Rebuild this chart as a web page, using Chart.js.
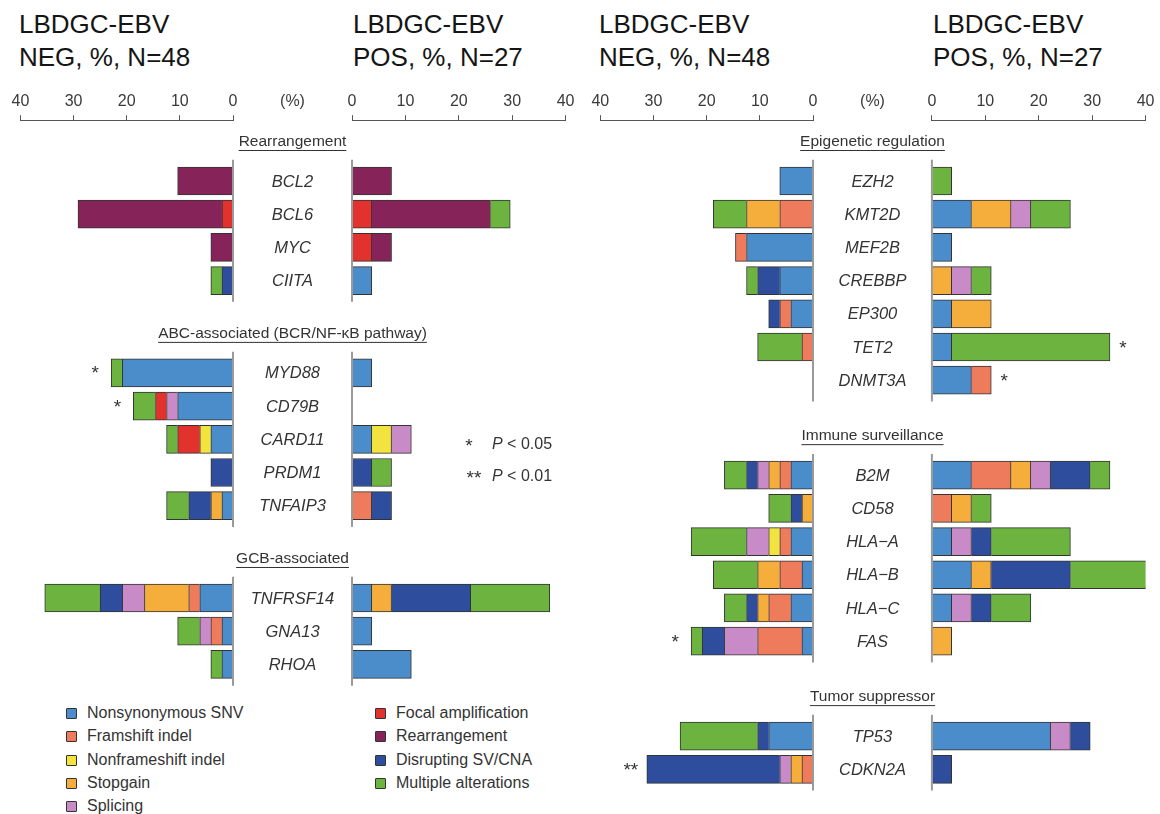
<!DOCTYPE html>
<html><head><meta charset="utf-8"><title>LBDGC-EBV</title>
<script src="https://cdn.jsdelivr.net/npm/chart.js@4.4.1/dist/chart.umd.min.js"></script>
<style>
html,body{margin:0;padding:0;background:#fff;}
body{width:1160px;height:814px;position:relative;overflow:hidden;font-family:"Liberation Sans",Arial,Helvetica,sans-serif;color:#222;}
.panel{position:absolute;top:0;height:814px;}
.title{position:absolute;top:8px;font-size:26px;line-height:33px;color:#151515;white-space:nowrap;}
.leg{position:absolute;font-size:16px;line-height:20px;height:20px;color:#333;white-space:nowrap;}
.leg i{display:block;width:9px;height:9px;border:1px solid #333;border-radius:1px;position:absolute;left:0;top:5px;}
.leg span{position:absolute;left:21px;top:0;}
</style></head><body>
<div class="title" style="left:19px">LBDGC-EBV<br>NEG, %, N=48</div>
<div class="title" style="left:353px">LBDGC-EBV<br>POS, %, N=27</div>
<div class="title" style="left:599px">LBDGC-EBV<br>NEG, %, N=48</div>
<div class="title" style="left:933px">LBDGC-EBV<br>POS, %, N=27</div>
<div id="legend"></div>
<script>
// ---------------- DATA ----------------
const categories = ['Nonsynonymous SNV','Framshift indel','Nonframeshift indel','Stopgain','Splicing',
  'Focal amplification','Rearrangement','Disrupting SV/CNA','Multiple alterations'];
const categoryColors = ['#4b8dca','#ee7c5c','#f2e33f','#f5ad3b','#c98bc8','#e2322e','#86245a','#2e4e9d','#6db33f'];
const nNeg = 48, nPos = 27;
const axisTicks = [0, 10, 20, 30, 40];

// left half
const leftGroups = ['Rearrangement', 'ABC-associated (BCR/NF-\u03BAB pathway)', 'GCB-associated'];
const leftGroupSizes = [4, 5, 3];
const leftGenes = ['BCL2','BCL6','MYC','CIITA','MYD88','CD79B','CARD11','PRDM1','TNFAIP3','TNFRSF14','GNA13','RHOA'];
// patient counts, one row per category (same order as categories)
const leftNegCounts = [
  [0,0,0,0,10,5,2,0,1,3,1,1],   // Nonsynonymous SNV
  [0,0,0,0,0,0,0,0,0,1,1,0],    // Framshift indel
  [0,0,0,0,0,0,1,0,0,0,0,0],    // Nonframeshift indel
  [0,0,0,0,0,0,0,0,1,4,0,0],    // Stopgain
  [0,0,0,0,0,1,0,0,0,2,1,0],    // Splicing
  [0,1,0,0,0,1,2,0,0,0,0,0],    // Focal amplification
  [5,13,2,0,0,0,0,0,0,0,0,0],   // Rearrangement
  [0,0,0,1,0,0,0,2,2,2,0,0],    // Disrupting SV/CNA
  [0,0,0,1,1,2,1,0,2,5,2,1]     // Multiple alterations
];
const leftPosCounts = [
  [0,0,0,1,1,0,1,0,0,1,1,3],
  [0,0,0,0,0,0,0,0,1,0,0,0],
  [0,0,0,0,0,0,1,0,0,0,0,0],
  [0,0,0,0,0,0,0,0,0,1,0,0],
  [0,0,0,0,0,0,1,0,0,0,0,0],
  [0,1,1,0,0,0,0,0,0,0,0,0],
  [2,6,1,0,0,0,0,0,0,0,0,0],
  [0,0,0,0,0,0,0,1,1,4,0,0],
  [0,1,0,0,0,0,0,1,0,4,0,0]
];
const leftNegStars = ['','','','','*','*','','','','','',''];
const leftPosStars = ['','','','','','','','','','','',''];

// right half
const rightGroups = ['Epigenetic regulation', 'Immune surveillance', 'Tumor suppressor'];
const rightGroupSizes = [7, 6, 2];
const rightGenes = ['EZH2','KMT2D','MEF2B','CREBBP','EP300','TET2','DNMT3A',
  'B2M','CD58','HLA\u2212A','HLA\u2212B','HLA\u2212C','FAS','TP53','CDKN2A'];
const rightNegCounts = [
  [3,0,6,3,2,0,0, 2,0,2,1,2,1, 4,0],
  [0,3,1,0,1,1,0, 1,0,1,2,2,4, 0,1],
  [0,0,0,0,0,0,0, 0,0,1,0,0,0, 0,0],
  [0,3,0,0,0,0,0, 1,1,0,2,1,0, 0,1],
  [0,0,0,0,0,0,0, 1,0,2,0,0,3, 0,1],
  [0,0,0,0,0,0,0, 0,0,0,0,0,0, 0,0],
  [0,0,0,0,0,0,0, 0,0,0,0,0,0, 0,0],
  [0,0,0,2,1,0,0, 1,1,0,0,1,2, 1,12],
  [0,3,0,1,0,4,0, 2,2,5,4,2,1, 7,0]
];
const rightPosCounts = [
  [0,2,1,0,1,1,2, 2,0,1,2,1,0, 6,0],
  [0,0,0,0,0,0,1, 2,1,0,0,0,0, 0,0],
  [0,0,0,0,0,0,0, 0,0,0,0,0,0, 0,0],
  [0,2,0,1,2,0,0, 1,1,0,1,0,1, 0,0],
  [0,1,0,1,0,0,0, 1,0,1,0,1,0, 1,0],
  [0,0,0,0,0,0,0, 0,0,0,0,0,0, 0,0],
  [0,0,0,0,0,0,0, 0,0,0,0,0,0, 0,0],
  [0,0,0,0,0,0,0, 2,0,1,4,1,0, 1,1],
  [1,2,0,1,0,8,0, 1,1,4,4,2,0, 0,0]
];
const rightNegStars = ['','','','','','','', '','','','','','*', '','**'];
const rightPosStars = ['','','','','','*','*', '','','','','','', '',''];

// ---------------- LAYOUT ----------------
const FONT = '"Liberation Sans", Arial, Helvetica, sans-serif';
const PITCH = 33.2, ROW0 = 181, AREA_BOTTOM = 800;
const HEADER_OFFSET = -1.22, LINE_EXT = 0.64, STAR_DROP = 6.5;

function rowPositions(sizes, gap) {
  const out = []; let k = 0;
  sizes.forEach((s, g) => { for (let i = 0; i < s; i++) { out.push(k + g * gap); k++; } });
  return out;
}
function groupSpans(sizes, pos) {
  const spans = []; let k = 0;
  sizes.forEach(s => { spans.push({first: pos[k], last: pos[k + s - 1]}); k += s; });
  return spans;
}

const overlay = {
  id: 'overlay',
  afterLayout(chart) {
    // rows are laid out with a fixed pixel pitch from the final chart area
    const ys = chart.scales.y;
    ys.min = -(ROW0 - ys.top) / PITCH;
    ys.max = ys.min + (ys.bottom - ys.top) / PITCH;
    ys.configure();
  },
  afterDatasetsDraw(chart, args, o) {
    const ctx = chart.ctx, xs = chart.scales.x, ys = chart.scales.y;
    ctx.save();
    // zero lines per group
    const x0 = xs.getPixelForValue(0);
    ctx.strokeStyle = '#9a9a9a'; ctx.lineWidth = 2;
    o.spans.forEach(sp => {
      ctx.beginPath();
      ctx.moveTo(x0, ys.getPixelForValue(sp.first - LINE_EXT));
      ctx.lineTo(x0, ys.getPixelForValue(sp.last + LINE_EXT));
      ctx.stroke();
    });
    // significance stars
    ctx.fillStyle = '#333'; ctx.font = '19px ' + FONT;
    ctx.textAlign = 'center'; ctx.textBaseline = 'alphabetic';
    o.stars.forEach((s, gi) => {
      if (!s) return;
      const total = o.totals[gi];
      const px = xs.getPixelForValue(total) + (o.side === 'neg' ? -16 : 13);
      ctx.fillText(s, px, ys.getPixelForValue(o.pos[gi]) + STAR_DROP);
    });
    // gene labels & headers between panels
    if (o.labelX !== undefined) {
      const lx = o.labelX;
      ctx.fillStyle = '#333'; ctx.textAlign = 'center'; ctx.textBaseline = 'middle';
      ctx.font = 'italic 16.5px ' + FONT;
      o.genes.forEach((g, gi) => ctx.fillText(g, lx, ys.getPixelForValue(o.pos[gi]) + 1));
      ctx.font = '15.5px ' + FONT;
      o.headers.forEach((h, hi) => {
        const y = ys.getPixelForValue(o.spans[hi].first + HEADER_OFFSET) + 1.5;
        ctx.fillText(h, lx, y);
        const w = ctx.measureText(h).width;
        ctx.fillRect(lx - w / 2, y + 8, w, 1);
      });
      ctx.font = '16px ' + FONT;
      ctx.fillStyle = '#3a3a3a';
      ctx.fillText('(%)', lx, xs.bottom - 5 - 4 - 9.6);
      // significance key
      if (o.key) {
        ctx.fillStyle = '#333';
        o.key.forEach(k => {
          const kx = k.x - o.boxLeft;
          ctx.font = '19px ' + FONT; ctx.textAlign = 'center'; ctx.textBaseline = 'alphabetic';
          ctx.fillText(k.star, kx, k.y + STAR_DROP);
          ctx.textAlign = 'left'; ctx.textBaseline = 'middle';
          ctx.font = 'italic 16px ' + FONT;
          ctx.fillText('P', k.tx - o.boxLeft, k.y);
          const pw = ctx.measureText('P').width;
          ctx.font = '16px ' + FONT;
          ctx.fillText(' < ' + k.p, k.tx - o.boxLeft + pw, k.y);
        });
      }
    }
    ctx.restore();
  }
};

function buildPanel(p) {
  const box = document.createElement('div');
  box.className = 'panel';
  box.style.left = p.boxLeft + 'px'; box.style.width = p.boxWidth + 'px';
  const cv = document.createElement('canvas');
  box.appendChild(cv); document.body.appendChild(box);
  const pos = rowPositions(p.sizes, p.gap);
  const spans = groupSpans(p.sizes, pos);
  const totals = p.genes.map((g, gi) => p.counts.reduce((a, row) => a + row[gi], 0) * 100 / p.n);
  const datasets = categories.map((c, ci) => ({
    label: c,
    data: p.genes.map((g, gi) => ({x: p.counts[ci][gi] * 100 / p.n, y: pos[gi]})).filter(d => d.x > 0),
    backgroundColor: categoryColors[ci],
    borderColor: '#333',
    borderWidth: 1,
    barThickness: 28,
    stack: 'alt'
  }));
  new Chart(cv, {
    type: 'bar',
    data: {datasets},
    plugins: [overlay],
    options: {
      indexAxis: 'y',
      responsive: true, maintainAspectRatio: false, animation: false,
      layout: {padding: {left: p.axisLeft - p.boxLeft, right: p.boxLeft + p.boxWidth - p.axisRight, top: 88, bottom: 814 - AREA_BOTTOM}},
      plugins: {
        legend: {display: false}, tooltip: {enabled: false},
        overlay: {spans, pos, totals, stars: p.stars, side: p.side, genes: p.genes, headers: p.headers,
          boxLeft: p.boxLeft, key: p.key,
          labelX: p.labelMid !== undefined ? p.labelMid - p.boxLeft : undefined}
      },
      scales: {
        x: {
          type: 'linear', position: 'top', min: 0, max: 40, reverse: p.side === 'neg', stacked: true,
          afterBuildTicks: ax => { ax.ticks = axisTicks.map(v => ({value: v})); },
          ticks: {font: {size: 16, family: FONT, lineHeight: 1.2}, color: '#3a3a3a', padding: 4, maxRotation: 0, autoSkip: false},
          grid: {drawOnChartArea: false, drawTicks: true, tickLength: 5, color: '#555', lineWidth: 1},
          border: {display: true, color: '#555', width: 1}
        },
        y: {type: 'linear', display: false, reverse: true, offset: false, min: -2, max: 19}
      }
    }
  });
}

const sigKey = [
  {star: '*', p: '0.05', x: 469, tx: 492, y: 445},
  {star: '**', p: '0.01', x: 474, tx: 492, y: 477}
];

const panelDefs = [
  {genes: leftGenes, sizes: leftGroupSizes, headers: leftGroups, gap: 1.78, counts: leftNegCounts, n: nNeg, stars: leftNegStars,
   side: 'neg', axisLeft: 20.4, axisRight: 233, boxLeft: 0, boxWidth: 250},
  {genes: leftGenes, sizes: leftGroupSizes, headers: leftGroups, gap: 1.78, counts: leftPosCounts, n: nPos, stars: leftPosStars,
   side: 'pos', axisLeft: 352, axisRight: 565.6, boxLeft: 120, boxWidth: 460, labelMid: 292.5, key: sigKey},
  {genes: rightGenes, sizes: rightGroupSizes, headers: rightGroups, gap: 1.86, counts: rightNegCounts, n: nNeg, stars: rightNegStars,
   side: 'neg', axisLeft: 600.3, axisRight: 813, boxLeft: 580, boxWidth: 250},
  {genes: rightGenes, sizes: rightGroupSizes, headers: rightGroups, gap: 1.86, counts: rightPosCounts, n: nPos, stars: rightPosStars,
   side: 'pos', axisLeft: 931.9, axisRight: 1145.6, boxLeft: 700, boxWidth: 460, labelMid: 872.5}
];
panelDefs.forEach(buildPanel);

// legend
const legend = document.getElementById('legend');
categories.forEach((c, i) => {
  const col = i < 5 ? 0 : 1, row = i < 5 ? i : i - 5;
  const d = document.createElement('div');
  d.className = 'leg';
  d.style.left = (col === 0 ? 66 : 375) + 'px';
  d.style.top = (703 + row * 23.3) + 'px';
  d.innerHTML = '<i style="background:' + categoryColors[i] + '"></i><span>' + c + '</span>';
  legend.appendChild(d);
});
</script>
</body></html>
